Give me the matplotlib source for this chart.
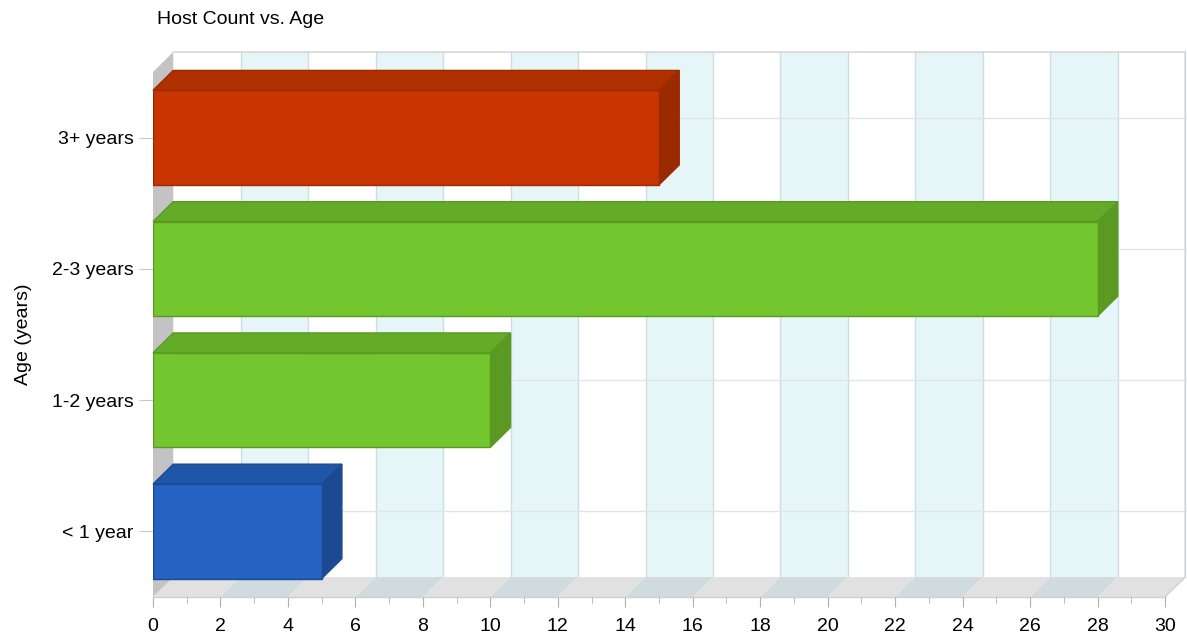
import numpy as np
import matplotlib
matplotlib.use("Agg")
import matplotlib.pyplot as plt
from matplotlib.patches import Polygon

plt.rcParams["font.family"] = ["Liberation Sans", "DejaVu Sans"]

# data
categories = ["< 1 year", "1-2 years", "2-3 years", "3+ years"]
counts = [5, 10, 28, 15]
front_colors = ["#2463c1", "#74c62e", "#74c62e", "#c83500"]
top_colors = ["#1f56a8", "#64ab28", "#64ab28", "#b03000"]
side_colors = ["#1c4a92", "#5a9a22", "#5a9a22", "#9a2a00"]
edge_colors = ["#1c4a92", "#5a9a22", "#5a9a22", "#9a2a00"]

XMAX = 30
DX, DY = 0.6, 0.152      # depth offset in data units
BAR_H = 0.72
Y0, Y1 = -0.5, 3.5

W, H = 1187, 639
fig = plt.figure(figsize=(W / 100, H / 100), dpi=100)
ax = fig.add_axes([153 / W, (H - 597) / H, (1165 - 153) / W, (597 - 72) / H])
ax.set_xlim(0, XMAX)
ax.set_ylim(Y0, Y1)
for s in ax.spines.values():
    s.set_visible(False)

# back wall with alternating bands
for k in range(0, XMAX, 2):
    band = "#ffffff" if (k // 2) % 2 == 0 else "#e6f5f7"
    ax.add_patch(Polygon([(k + DX, Y0 + DY), (k + 2 + DX, Y0 + DY),
                          (k + 2 + DX, Y1 + DY), (k + DX, Y1 + DY)],
                         closed=True, fc=band, ec="none", clip_on=False, zorder=0))
    fl = "#e1e1e1" if (k // 2) % 2 == 0 else "#cfdbde"
    ax.add_patch(Polygon([(k, Y0), (k + 2, Y0), (k + 2 + DX, Y0 + DY), (k + DX, Y0 + DY)],
                         closed=True, fc=fl, ec="none", clip_on=False, zorder=0.5))
for k in range(2, XMAX + 1, 2):
    ax.plot([k + DX, k + DX], [Y0 + DY, Y1 + DY], color="#cddde0", lw=1, clip_on=False, zorder=0.2)
for i in range(len(categories)):
    ax.plot([DX, XMAX + DX], [i + DY, i + DY], color="#dde6e8", lw=1, clip_on=False, zorder=0.2)
# wall outline
ax.plot([DX, XMAX + DX, XMAX + DX, XMAX], [Y1 + DY, Y1 + DY, Y0 + DY, Y0],
        color="#d0d0d0", lw=1, clip_on=False, zorder=0.6)
ax.plot([0, XMAX], [Y0, Y0], color="#d0d0d0", lw=1, clip_on=False, zorder=0.6)

# left wall
ax.add_patch(Polygon([(0, Y0), (DX, Y0 + DY), (DX, Y1 + DY), (0, Y1)],
                     closed=True, fc="#c3c3c3", ec="none", clip_on=False, zorder=0.7))

# bars
y = np.arange(len(categories))
ax.barh(y, counts, height=BAR_H, color=front_colors, edgecolor=edge_colors,
        linewidth=1, zorder=3)
for yi, v, tc, sc, ec in zip(y, counts, top_colors, side_colors, edge_colors):
    top, bot = yi + BAR_H / 2, yi - BAR_H / 2
    ax.add_patch(Polygon([(0, top), (v, top), (v + DX, top + DY), (DX, top + DY)],
                         closed=True, fc=tc, ec=ec, lw=1, clip_on=False, zorder=2))
    ax.add_patch(Polygon([(v, bot), (v + DX, bot + DY), (v + DX, top + DY), (v, top)],
                         closed=True, fc=sc, ec=ec, lw=1, clip_on=False, zorder=2))

ax.set_xticks(np.arange(0, XMAX + 1, 2))
ax.set_xticks(np.arange(0, XMAX + 1, 1), minor=True)
ax.set_yticks(y)
ax.set_yticklabels(categories)
ax.tick_params(axis="x", which="major", length=7, color="#b0b0b0", labelsize=14, pad=8)
ax.tick_params(axis="x", which="minor", length=4, color="#b0b0b0")
ax.tick_params(axis="y", length=10, color="#c8c8c8", labelsize=14, pad=4)
ax.set_ylabel("Age (years)", fontsize=14, labelpad=14)
fig.text(157 / W, 1 - 20 / H, "Host Count vs. Age", fontsize=14, ha="left", va="center")

fig.savefig("out.png", dpi=100, facecolor="white")
